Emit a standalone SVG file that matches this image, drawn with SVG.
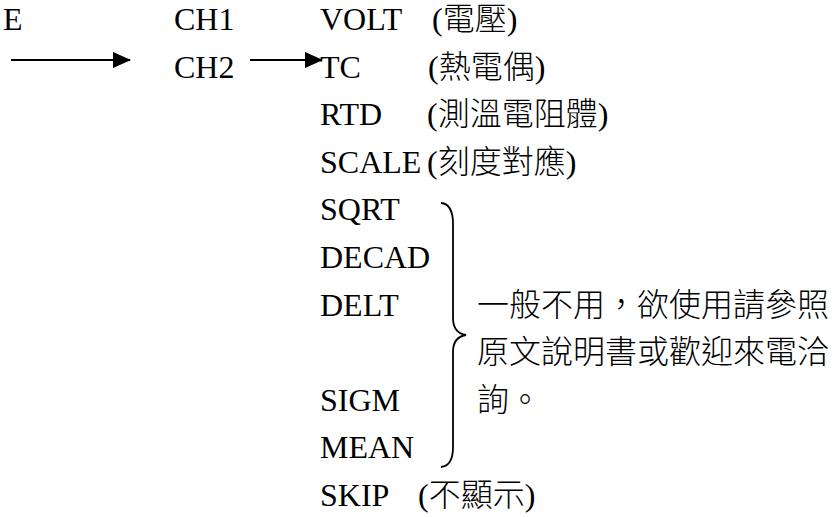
<svg xmlns="http://www.w3.org/2000/svg" width="834" height="517" viewBox="0 0 834 517">
<style>
  .t { font-family: "Liberation Serif", "Noto Sans CJK TC", serif; font-size: 32px; fill: #000; }
  .p { font-weight: 300; }
  .c { font-family: "Noto Sans CJK TC", sans-serif; font-size: 32px; font-weight: 300; fill: #000; }
  .ln { stroke: #000; stroke-width: 2; fill: none; }
  .br { stroke: #000; stroke-width: 1.8; fill: none; }
  .ah { fill: #000; stroke: none; }
</style>
<defs>
  <marker id="ah" markerUnits="userSpaceOnUse" viewBox="0 0 18 16" markerWidth="18" markerHeight="16" refX="17" refY="8" orient="auto" overflow="visible">
    <path class="ah" d="M0,0 L18,8 L0,16 z"/>
  </marker>
</defs>
<rect width="834" height="517" fill="#fff"/>
<g id="connectors">
  <path class="ln" d="M11,60 H130" marker-end="url(#ah)"/>
  <path class="ln" d="M250,60 H322" marker-end="url(#ah)"/>
  <path class="br" d="M441,203 Q453,204 453,224 L453,318 Q453,333 466,335 Q453,337 453,352 L453,447 Q453,466 441,467"/>
</g>
<g id="n-e"><text class="t" x="3" y="30">E</text></g>
<g id="n-ch1"><text class="t" x="174" y="30">CH1</text></g>
<g id="n-ch2"><text class="t" x="174" y="77.6">CH2</text></g>
<g id="n-volt"><text class="t" x="320" y="30">VOLT<tspan class="p" x="432">(電壓)</tspan></text></g>
<g id="n-tc"><text class="t" x="320" y="77.6">TC<tspan class="p" x="428">(熱電偶)</tspan></text></g>
<g id="n-rtd"><text class="t" x="320" y="125.2">RTD<tspan class="p" x="427">(測溫電阻體)</tspan></text></g>
<g id="n-scale"><text class="t" x="320" y="172.8">SCALE<tspan class="p" x="427">(刻度對應)</tspan></text></g>
<g id="n-sqrt"><text class="t" x="320" y="220.4">SQRT</text></g>
<g id="n-decad"><text class="t" x="320" y="268">DECAD</text></g>
<g id="n-delt"><text class="t" x="320" y="315.6">DELT</text></g>
<g id="n-sigm"><text class="t" x="320" y="410.8">SIGM</text></g>
<g id="n-mean"><text class="t" x="320" y="458.4">MEAN</text></g>
<g id="n-skip"><text class="t" x="320" y="506">SKIP<tspan class="p" x="418">(不顯示)</tspan></text></g>
<g id="n-note">
  <text class="c" x="477" y="315.6">一般不用，欲使用請參照</text>
  <text class="c" x="477" y="363.2">原文說明書或歡迎來電洽</text>
  <text class="c" x="477" y="410.8">詢。</text>
</g>
</svg>
